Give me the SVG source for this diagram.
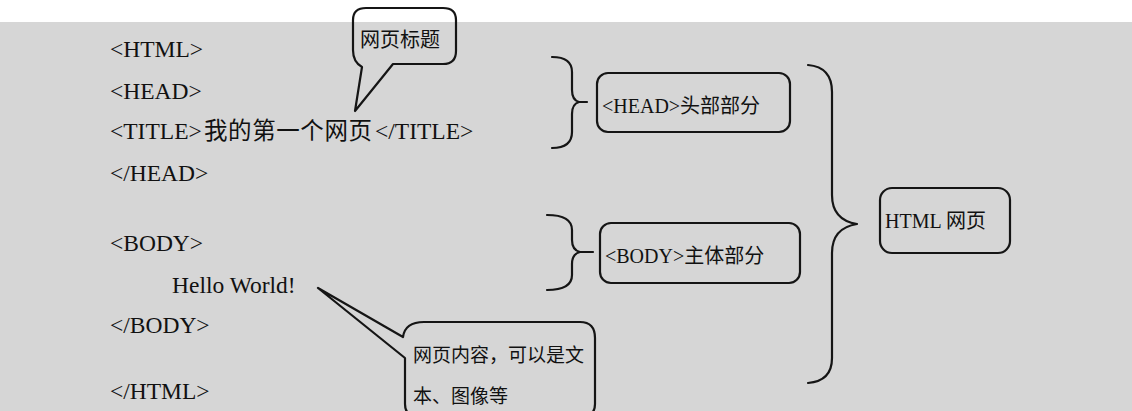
<svg xmlns="http://www.w3.org/2000/svg" width="1132" height="411" viewBox="0 0 1132 411">
<style>
.bg{fill:#d6d6d6}
.ln{fill:none;stroke:#151515;stroke-width:2.2;stroke-linecap:round;stroke-linejoin:round}
.code{font-family:'Liberation Serif','Noto Sans CJK SC',serif;font-size:23.5px;fill:#111}
.lbl{font-family:'Liberation Serif','Noto Sans CJK SC',serif;font-size:20px;fill:#111}
.cjk{font-family:'Noto Sans CJK SC','Liberation Serif',sans-serif;font-size:19px;fill:#111}
</style>
<rect x="0" y="0" width="1132" height="411" fill="#ffffff"/>
<rect class="bg" x="0" y="22" width="1132" height="389"/>

<g id="code">
  <text class="code" x="110" y="57">&lt;HTML&gt;</text>
  <text class="code" x="110" y="99">&lt;HEAD&gt;</text>
  <text class="code" x="110" y="139">&lt;TITLE&gt;</text>
  <text class="code" x="204" y="139" textLength="168" lengthAdjust="spacing">我的第一个网页</text>
  <text class="code" x="375" y="139">&lt;/TITLE&gt;</text>
  <text class="code" x="110" y="181">&lt;/HEAD&gt;</text>
  <text class="code" x="110" y="251">&lt;BODY&gt;</text>
  <text class="code" x="172" y="293">Hello World!</text>
  <text class="code" x="110" y="333">&lt;/BODY&gt;</text>
  <text class="code" x="110" y="399">&lt;/HTML&gt;</text>
</g>

<g id="connectors">
  <path class="ln" d="M552,57 Q572,57 572,72 L572,90 Q572,100 579,102 L587,102 M579,102 Q572,104 572,114 L572,132 Q572,148 552,148"/>
  <path class="ln" d="M547,215 Q572,215 572,230 L572,240 Q572,250 580,252 L593,252 M580,252 Q572,254 572,264 L572,275 Q572,290 547,290"/>
  <path class="ln" d="M808,65 Q832,67 832,92 L832,195 Q832,220 857,224 Q832,228 832,253 L832,358 Q832,381 808,383"/>
</g>

<g id="title-bubble">
  <path class="ln" d="M355,111 L362,67 Q353,62 353,50 L353,20 Q353,8 366,8 L443,8 Q456,8 456,20 L456,51 Q456,64 443,64 L393,64 Z"/>
  <text class="lbl" x="360" y="47">网页标题</text>
</g>

<g id="head-box">
  <rect class="ln" x="597" y="73" width="193" height="59" rx="11"/>
  <text class="lbl" x="602" y="113">&lt;HEAD&gt;头部部分</text>
</g>

<g id="body-box">
  <rect class="ln" x="600" y="223" width="200" height="60" rx="11"/>
  <text class="lbl" x="605" y="263">&lt;BODY&gt;主体部分</text>
</g>

<g id="html-box">
  <rect class="ln" x="880" y="188" width="130" height="65" rx="12"/>
  <text class="lbl" x="885" y="228">HTML 网页</text>
</g>

<g id="content-bubble">
  <path class="ln" d="M405,404 L405,358 L318,288 L403,337 Q405,322 424,322 L580,322 Q595,322 595,338 L595,404 Q595,416 583,416 L417,416 Q405,416 405,404"/>
  <text class="cjk" x="413" y="362">网页内容，可以是文</text>
  <text class="cjk" x="413" y="403">本、图像等</text>
</g>
</svg>
